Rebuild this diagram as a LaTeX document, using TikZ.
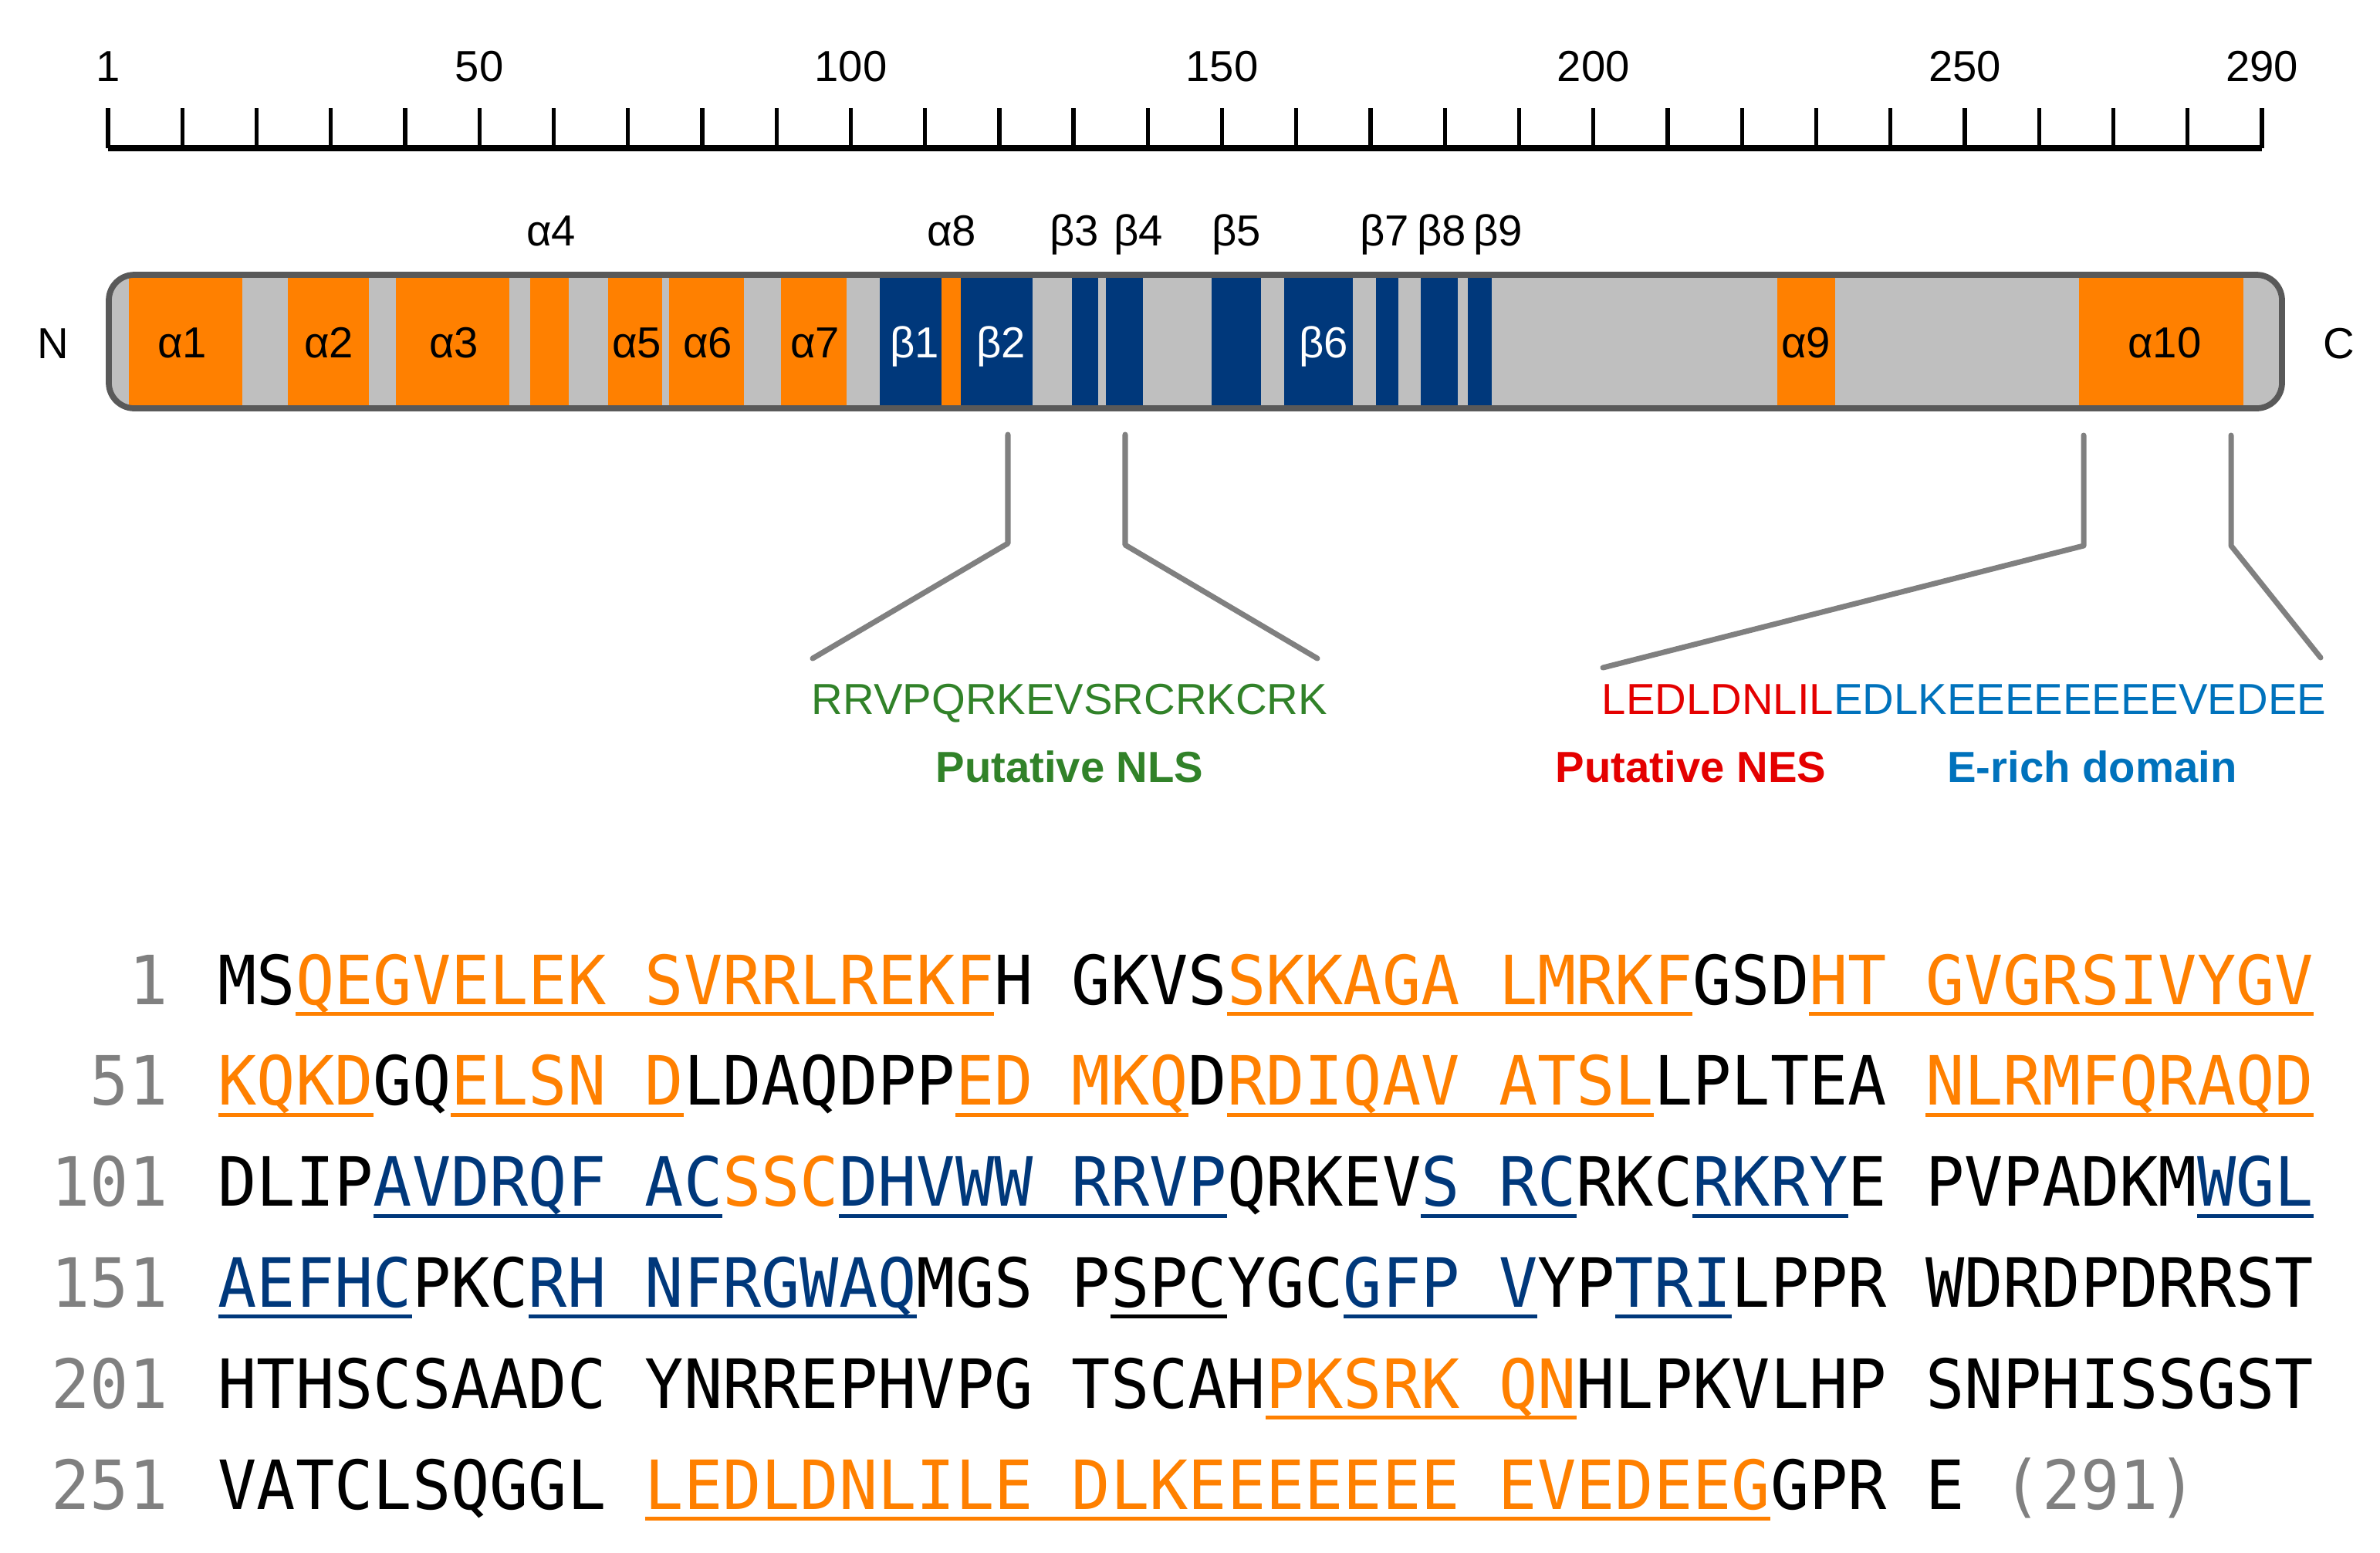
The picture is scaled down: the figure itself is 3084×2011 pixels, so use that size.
\documentclass[tikz,border=0pt]{standalone}
\usepackage{fontspec}
\setmainfont{Liberation Sans}
\newfontfamily\seqfont[FakeStretch=0.95]{DejaVu Sans Mono}
\usepackage{xcolor}

\definecolor{helix}{RGB}{255,128,0}
\definecolor{strand}{RGB}{0,56,123}
\definecolor{barfill}{RGB}{191,191,191}
\definecolor{barrim}{RGB}{89,89,89}
\definecolor{callgray}{RGB}{128,128,128}
\definecolor{nlsgreen}{RGB}{49,130,41}
\definecolor{nesred}{RGB}{228,0,0}
\definecolor{erich}{RGB}{0,114,188}

% underlined run in the sequence
\newsavebox\seqbox
\newcommand\sequl[2]{\sbox\seqbox{\color{#1}#2}%
  \rlap{\color{#1}\vrule width\wd\seqbox height -0.10cm depth 0.15cm}\usebox\seqbox}

\begin{document}
\begin{tikzpicture}[x=0.01cm, y=-0.01cm,
  lbl/.style={inner sep=0pt, anchor=base, font=\fontsize{16}{19}\selectfont},
  boldlbl/.style={lbl, font=\fontsize{16}{19}\selectfont\bfseries},
  callout/.style={draw=callgray, line width=2pt, line cap=round, line join=round},
  seqtext/.style={inner sep=0pt, anchor=base west, font=\seqfont\fontsize{25}{30}\selectfont},
  seqnum/.style={inner sep=0pt, anchor=base east, text=callgray, font=\seqfont\fontsize{25}{30}\selectfont}]
  \useasboundingbox (0,0) rectangle (3084,2011);

  % Ruler
  \foreach \i in {0,...,29}
    \draw[line width=1.5pt] ({140+\i*96.24},140) -- ({140+\i*96.24},192);
  \draw[line width=2.1pt] (140,192) -- (2931,192);
  \foreach \i/\n in {0/1,5/50,10/100,15/150,20/200,25/250,29/290}
    \node[lbl] (tick\n) at ({140+\i*96.24},105) {\n};

  % Domain bar
  \begin{scope}
    \clip[rounded corners=0.33cm] (141,356) rectangle (2957,529);
    \fill[barfill] (141,356) rectangle (2957,529);
    \foreach \a/\b/\c in {167/314/helix, 373/478/helix, 513/660/helix, 687/737/helix,
        788/858/helix, 867/964/helix, 1012/1097/helix, 1140/1220/strand,
        1220/1245/helix, 1245/1338/strand, 1389/1423/strand, 1433/1481/strand,
        1570/1634/strand, 1664/1753/strand, 1783/1812/strand, 1841/1889/strand,
        1902/1933/strand, 2303/2378/helix, 2694/2907/helix}
      \fill[\c] (\a,356) rectangle (\b,529);
  \end{scope}
  \draw[draw=barrim, line width=2.2pt, rounded corners=0.33cm] (141,356) rectangle (2957,529);
  \node[lbl] (nterm) at (69,464) {N};
  \node[lbl] (cterm) at (3031,464) {C};

  % labels inside the bar
  \foreach \x/\t/\c [count=\k] in {236/α1/black, 426/α2/black, 588/α3/black, 825/α5/black,
      917/α6/black, 1056/α7/black, 1185/β1/white, 1297/β2/white, 1715/β6/white,
      2340/α9/black, 2805/α10/black}
    \node[lbl, text=\c] (inlbl\k) at (\x,463) {\t};
  % labels above the bar
  \foreach \x/\t [count=\k] in {714/α4, 1233/α8, 1392/β3, 1475/β4, 1602/β5,
      1794/β7, 1868/β8, 1941/β9}
    \node[lbl] (uplbl\k) at (\x,318) {\t};

  % Callouts
  \coordinate (nlsA) at (1306,563); \coordinate (nlsAk) at (1306,704); \coordinate (nlsAe) at (1053,853);
  \coordinate (nlsB) at (1458,563); \coordinate (nlsBk) at (1458,706); \coordinate (nlsBe) at (1707,853);
  \coordinate (nesA) at (2700,564); \coordinate (nesAk) at (2700,707); \coordinate (nesAe) at (2077,865);
  \coordinate (nesB) at (2891,564); \coordinate (nesBk) at (2891,707); \coordinate (nesBe) at (3007,852);
  \draw[callout] (nlsA) -- (nlsAk) -- (nlsAe);
  \draw[callout] (nlsB) -- (nlsBk) -- (nlsBe);
  \draw[callout] (nesA) -- (nesAk) -- (nesAe);
  \draw[callout] (nesB) -- (nesBk) -- (nesBe);

  \node[lbl, text=nlsgreen] (nlsseq) at (1386,925) {RRVPQRKEVSRCRKCRK};
  \node[boldlbl, text=nlsgreen] (nlsname) at (1386,1013) {Putative NLS};
  \node[lbl] (nesseq) at (2545,925) {\textcolor{nesred}{LEDLDNLIL}\textcolor{erich}{EDLKEEEEEEEEVEDEE}};
  \node[boldlbl, text=nesred] (nesname) at (2191,1013) {Putative NES};
  \node[boldlbl, text=erich] (erichname) at (2711,1013) {E-rich domain};

  % Sequence
  \foreach \n [count=\k] in {1,51,101,151,201,251}
    \node[seqnum] (num\n) at (218,{1301+(\k-1)*130.8}) {\n};
  \node[seqtext] (seq1) at (282,1301) {MS\sequl{helix}{QEGVELEK SVRRLREKF}H GKVS\sequl{helix}{SKKAGA LMRKF}GSD\sequl{helix}{HT GVGRSIVYGV}};
  \node[seqtext] (seq2) at (282,1431.8) {\sequl{helix}{KQKD}GQ\sequl{helix}{ELSN D}LDAQDPP\sequl{helix}{ED MKQ}D\sequl{helix}{RDIQAV ATSL}LPLTEA \sequl{helix}{NLRMFQRAQD}};
  \node[seqtext] (seq3) at (282,1562.6) {DLIP\sequl{strand}{AVDRQF AC}\textcolor{helix}{SSC}\sequl{strand}{DHVWW RRVP}QRKEV\sequl{strand}{S RC}RKC\sequl{strand}{RKRY}E PVPADKM\sequl{strand}{WGL}};
  \node[seqtext] (seq4) at (282,1693.4) {\sequl{strand}{AEFHC}PKC\sequl{strand}{RH NFRGWAQ}MGS P\sequl{black}{SPC}YGC\sequl{strand}{GFP V}YP\sequl{strand}{TRI}LPPR WDRDPDRRST};
  \node[seqtext] (seq5) at (282,1824.2) {HTHSCSAADC YNRREPHVPG TSCAH\sequl{helix}{PKSRK QN}HLPKVLHP SNPHISSGST};
  \node[seqtext] (seq6) at (282,1955) {VATCLSQGGL \sequl{helix}{LEDLDNLILE DLKEEEEEEE EVEDEEG}GPR E \textcolor{callgray}{(291)}};
\end{tikzpicture}
\end{document}
